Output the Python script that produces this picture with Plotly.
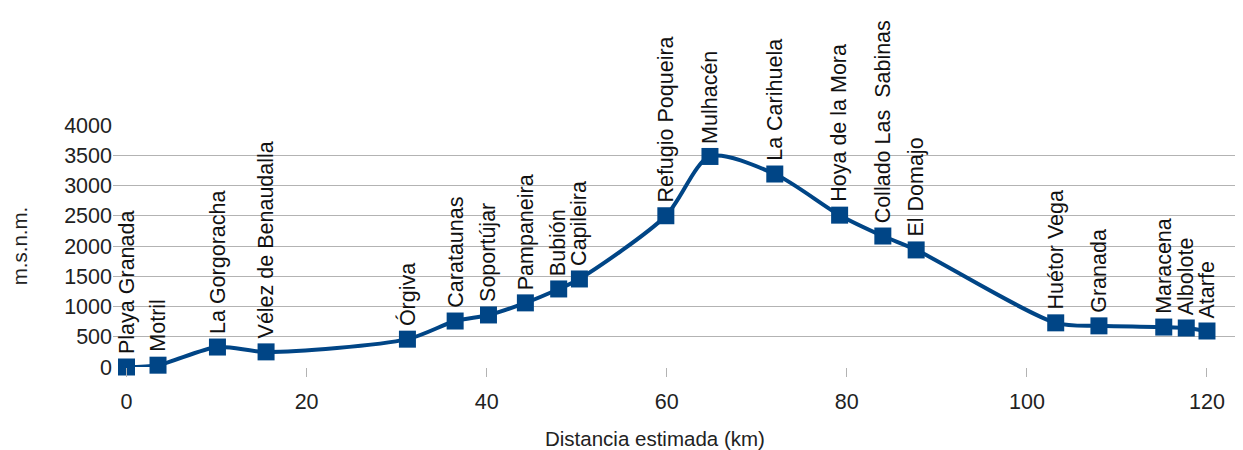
import plotly.graph_objects as go

lugares = ["Playa Granada", "Motril", "La Gorgoracha", "Vélez de Benaudalla", "Órgiva",
           "Carataunas", "Soportújar", "Pampaneira", "Bubión", "Capileira",
           "Refugio Poqueira", "Mulhacén", "La Carihuela", "Hoya de la Mora",
           "Collado Las\u00a0 Sabinas", "El Domajo", "Huétor Vega", "Granada",
           "Maracena", "Albolote", "Atarfe"]
distancia_km = [0, 3.5, 10.1, 15.5, 31.2, 36.5, 40.2, 44.3, 48.0, 50.3,
                59.9, 64.8, 72.0, 79.2, 84.0, 87.7, 103.2, 108.0, 115.2, 117.7, 120.0]
altitud_m = [0, 30, 330, 250, 460, 760, 860, 1060, 1290, 1455,
             2500, 3480, 3190, 2510, 2165, 1935, 730, 680, 660, 645, 595]

x_ticks = [0, 20, 40, 60, 80, 100, 120]
y_ticks = [0, 500, 1000, 1500, 2000, 2500, 3000, 3500, 4000]
x_title = "Distancia estimada (km)"
y_title = "m.s.n.m."

color = "#004586"
font_family = "Liberation Sans, Arial, sans-serif"

fig = go.Figure()
fig.add_trace(go.Scatter(
    x=distancia_km, y=altitud_m,
    mode="lines+markers",
    line=dict(color=color, width=4, shape="spline", smoothing=0.8),
    marker=dict(symbol="square", size=17, color=color),
    cliponaxis=False,
    showlegend=False,
))

for name, xv, yv in zip(lugares, distancia_km, altitud_m):
    fig.add_annotation(
        x=xv, y=yv, text=name, textangle=-90,
        showarrow=False, xanchor="center", yanchor="bottom",
        yshift=11, font=dict(family=font_family, size=21.5, color="#111111"),
    )

# x-axis title, centred a little left of the plot centre as in the reference
fig.add_annotation(
    xref="paper", yref="paper", x=0.48, y=0, yshift=-71,
    text=x_title, showarrow=False, xanchor="center", yanchor="middle",
    font=dict(family=font_family, size=20.5, color="#222222"),
)

# page body has an 8px default margin: size the figure so the plot lands where the reference has it
fig.update_layout(
    width=1235, height=442,
    margin=dict(l=105, r=0, t=117, b=83),
    paper_bgcolor="white", plot_bgcolor="white",
    font=dict(family=font_family, size=21, color="#222222"),
    xaxis=dict(
        range=[-1.5, 124], tickvals=x_ticks, showgrid=False, zeroline=False,
        ticks="outside", ticklen=9, tickcolor="#b3b3b3", showline=False,
        ticklabelstandoff=6,
        tickfont=dict(size=21.5),
    ),
    yaxis=dict(
        range=[0, 4000], tickvals=y_ticks, showgrid=True, gridcolor="#b3b3b3",
        gridwidth=1, zeroline=False, ticks="", showline=False,
        tickfont=dict(size=21.5),
        title=dict(text=y_title, font=dict(size=20.5), standoff=34),
    ),
)

fig.write_html("out.html")
